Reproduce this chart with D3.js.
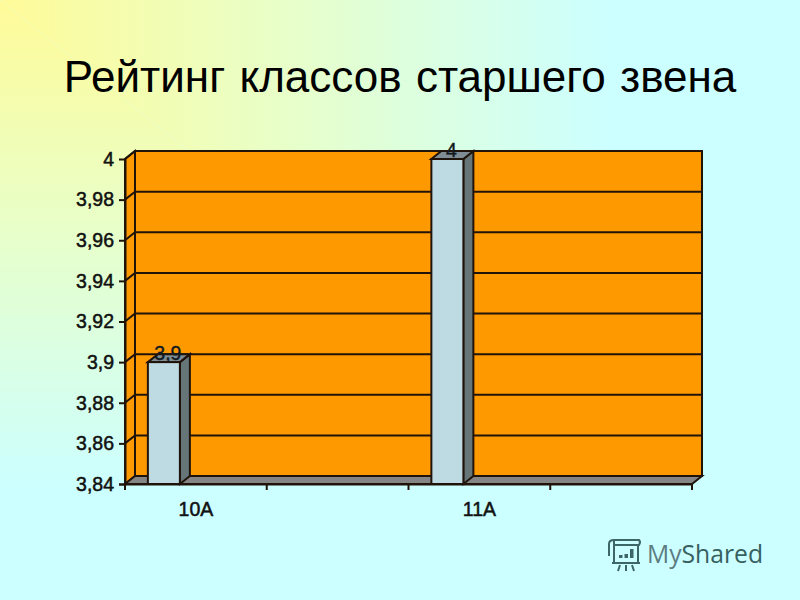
<!DOCTYPE html>
<html><head><meta charset="utf-8">
<script src="https://cdn.jsdelivr.net/npm/d3@7"></script>
<style>html,body{margin:0;padding:0;background:#ccffff}svg{display:block}text{font-family:"Liberation Sans",Arial,sans-serif}</style>
</head><body><svg id="c" width="800" height="600"></svg>
<script>
const titleText = "Рейтинг классов старшего звена";
const categories = ["10А", " ", "11А", "  "];
const seriesNames = ["s1", "s2", "s3"];
const series1 = [3.9, null, 4, null];
const seriesLabels = ["3,9", null, "4", null];
const tickValues = [3.84, 3.86, 3.88, 3.9, 3.92, 3.94, 3.96, 3.98, 4];
const tickLabels = ["3,84", "3,86", "3,88", "3,9", "3,92", "3,94", "3,96", "3,98", "4"];

const svg = d3.select("#c");
const defs = svg.append("defs");
function grad(id, x2, y2) {
  const g = defs.append("linearGradient").attr("id", id).attr("gradientUnits", "userSpaceOnUse")
    .attr("x1", 0).attr("y1", 0).attr("x2", x2).attr("y2", y2);
  g.append("stop").attr("offset", "0").attr("stop-color", "#fffb99");
  g.append("stop").attr("offset", "0.5").attr("stop-color", "#e6ffcc");
  g.append("stop").attr("offset", "1").attr("stop-color", "#ccffff");
}
grad("bgH", 610, 0);
grad("bgV", 0, 488);
svg.append("path").attr("d", "M0,0L800,0L800,640Z").attr("fill", "url(#bgH)");
svg.append("path").attr("d", "M0,0L800,640L0,640Z").attr("fill", "url(#bgV)");

svg.append("text").attr("x", 400).attr("y", 92).attr("text-anchor", "middle")
  .attr("font-size", 44).attr("word-spacing", 2).attr("fill", "#000").text(titleText);

const dx = 10, dy = -8;
const x = d3.scaleBand().domain(categories).range([125, 692]);
const xs = d3.scaleBand().domain(seriesNames).range([0, 96]);
const y = d3.scaleLinear().domain([3.84, 4]).range([484, 159]);
const ink = "#20140a";
const sw = 2;

const L = x.range()[0], R = x.range()[1], B = y(3.84), T = y(4);
// side wall
svg.append("path").attr("d", `M${L},${B}L${L},${T}L${L+dx},${T+dy}L${L+dx},${B+dy}Z`)
  .attr("fill", "#ff9900").attr("stroke", ink).attr("stroke-width", sw);
// back wall
svg.append("rect").attr("x", L+dx).attr("y", T+dy).attr("width", R-L).attr("height", B-T)
  .attr("fill", "#ff9900").attr("stroke", ink).attr("stroke-width", sw);
// grid
svg.selectAll("path.grid").data(tickValues.slice(1)).join("path").attr("class", "grid")
  .attr("d", v => `M${L},${y(v)}L${L+dx},${y(v)+dy}L${R+dx},${y(v)+dy}`)
  .attr("fill", "none").attr("stroke", ink).attr("stroke-width", sw);
// floor
svg.append("path").attr("d", `M${L},${B}L${L+dx},${B+dy}L${R+dx},${B+dy}L${R},${B}Z`)
  .attr("fill", "#858585").attr("stroke", ink).attr("stroke-width", sw);

// bars
const barData = categories.map((c, i) => ({c, v: series1[i], label: seriesLabels[i]})).filter(d => d.v != null);
const bars = svg.selectAll("g.bar").data(barData).join("g").attr("class", "bar");
const bl = d => x(d.c) + (x.bandwidth() - xs.range()[1]) / 2 + xs("s1");
const bw = xs.bandwidth();
bars.append("path").attr("d", d => `M${bl(d)+bw},${B}L${bl(d)+bw+dx},${B+dy}L${bl(d)+bw+dx},${y(d.v)+dy}L${bl(d)+bw},${y(d.v)}Z`)
  .attr("fill", "#667578").attr("stroke", ink).attr("stroke-width", sw);
bars.append("path").attr("d", d => `M${bl(d)},${y(d.v)}L${bl(d)+dx},${y(d.v)+dy}L${bl(d)+bw+dx},${y(d.v)+dy}L${bl(d)+bw},${y(d.v)}Z`)
  .attr("fill", "#7f8e94").attr("stroke", ink).attr("stroke-width", sw);
bars.append("rect").attr("x", bl).attr("y", d => y(d.v)).attr("width", bw).attr("height", d => B - y(d.v))
  .attr("fill", "#bedbe4").attr("stroke", ink).attr("stroke-width", sw);
bars.append("text").attr("x", d => bl(d) + bw/2 + 4).attr("y", d => y(d.v) + dy + 6)
  .attr("text-anchor", "middle").attr("font-size", 19.5).attr("fill", "#111a20")
  .attr("stroke", "#111a20").attr("stroke-width", 0.4).text(d => d.label);

// axes
const yAxis = d3.axisLeft(y).tickValues(tickValues).tickFormat((d, i) => tickLabels[i]).tickSize(6).tickPadding(5);
const ga = svg.append("g").attr("transform", `translate(${L},0)`).call(yAxis);
ga.selectAll(".tick").filter(d => d === 4).select("line").remove();
const xAxis = d3.axisBottom(x).tickSize(0).tickPadding(18);
const gb = svg.append("g").attr("transform", `translate(0,${B})`).call(xAxis);
gb.selectAll(".seam").data([0,1,2,3,4]).join("line").attr("class", "seam")
  .attr("x1", i => L + i * x.step()).attr("x2", i => L + i * x.step())
  .attr("y1", 0).attr("y2", 6).attr("stroke", ink).attr("stroke-width", sw);
[ga, gb].forEach(a => {
  a.selectAll(".domain").attr("stroke", ink).attr("stroke-width", sw);
  a.selectAll(".tick line").attr("stroke", ink).attr("stroke-width", sw);
  a.selectAll("text").attr("font-family", '"Liberation Sans",Arial,sans-serif').attr("font-size", 19.5)
    .attr("fill", "#111").attr("stroke", "#111").attr("stroke-width", 0.5);
});

// watermark
const wm = svg.append("g").attr("fill", "none").attr("stroke", "#3d6666").attr("stroke-width", 2);
wm.append("path").attr("d", "M609,556 L609,544 Q609,540 614,540 L639,540 Q641,542 639,545 L614,545 M614,541 L614,552 M614,547 L614,563 L638,563 L638,545 M612,563 L640,563");
wm.append("path").attr("d", "M620,565 L618,571 M626,565 L626,571 M632,565 L634,571");
const wmBars = [[619,3],[624.5,4],[630,9]];
wm.selectAll("rect").data(wmBars).join("rect").attr("x", d => d[0]).attr("y", d => 558 - d[1])
  .attr("width", 3.5).attr("height", d => d[1]).attr("fill", "#3d6666").attr("stroke", "none");
const wt = svg.append("text").attr("x", 647).attr("y", 563).attr("font-size", 24.7)
  .attr("style", 'font-family:"Open Sans",sans-serif');
wt.append("tspan").attr("fill", "#5d7c82").text("My");
wt.append("tspan").attr("fill", "#37605f").text("Shared");
</script></body></html>
